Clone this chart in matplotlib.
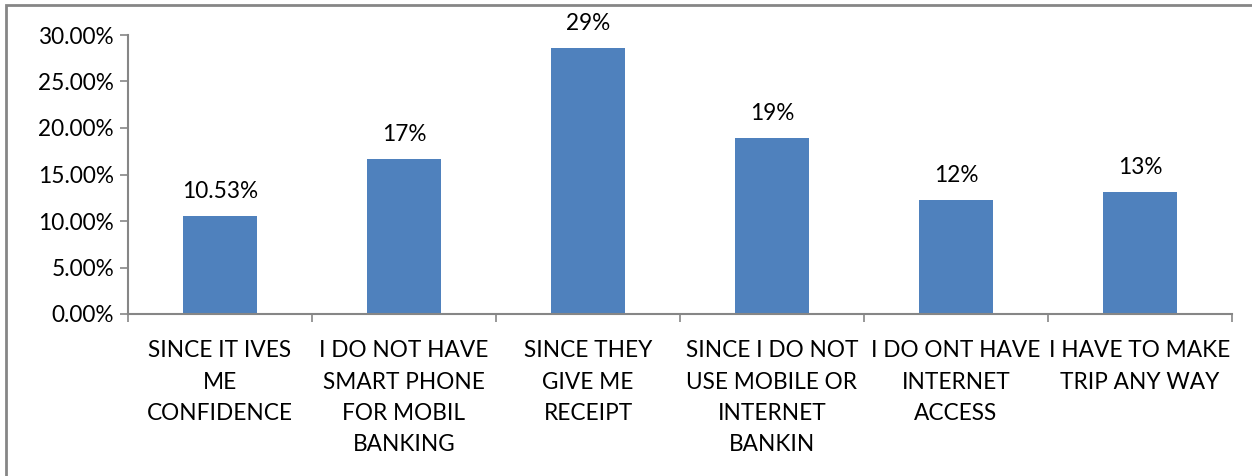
import numpy as np
import matplotlib.pyplot as plt
from matplotlib.patches import Rectangle
from matplotlib.ticker import FuncFormatter

# Survey: reasons for visiting the bank branch in person
reasons = [
    'SINCE IT IVES\nME\nCONFIDENCE',
    'I DO NOT HAVE\nSMART PHONE\nFOR MOBIL\nBANKING',
    'SINCE THEY\nGIVE ME\nRECEIPT',
    'SINCE I DO NOT\nUSE MOBILE OR\nINTERNET\nBANKIN',
    'I DO ONT HAVE\nINTERNET\nACCESS',
    'I HAVE TO MAKE\nTRIP ANY WAY',
]
shares = [10.53, 16.67, 28.57, 18.89, 12.28, 13.16]  # percent
label_decimals = [2, 0, 0, 0, 0, 0]

plt.rcParams['font.family'] = ['Lato', 'DejaVu Sans']

BAR_COLOR = '#4F81BD'
AXIS_GRAY = '#868686'
FS = 16.3

fig = plt.figure(figsize=(12.52, 4.76), dpi=100)
ax = fig.add_axes([128 / 1252, 162 / 476, 1104 / 1252, 279 / 476])

x = np.arange(len(reasons))
bars = ax.bar(x, shares, width=0.4, color=BAR_COLOR, zorder=2)

for rect, val, dec in zip(bars, shares, label_decimals):
    ax.annotate(f'{val:.{dec}f}%',
                xy=(rect.get_x() + rect.get_width() / 2, rect.get_height()),
                xytext=(0, 10), textcoords='offset points',
                ha='center', va='bottom', fontsize=FS, color='black')

ax.set_xlim(-0.5, len(reasons) - 0.5)
ax.set_ylim(0, 30)
ax.set_yticks(np.arange(0, 31, 5))
ax.yaxis.set_major_formatter(FuncFormatter(lambda v, _: f'{v:.2f}%'))

# category names at bar centres, tick marks on the boundaries
ax.set_xticks(x)
ax.set_xticklabels(reasons, fontsize=FS, linespacing=1.6)
ax.set_xticks(np.arange(-0.5, len(reasons)), minor=True)
ax.tick_params(axis='x', which='major', length=0, pad=19)
ax.tick_params(axis='x', which='minor', length=6, width=1.2, color=AXIS_GRAY)
ax.tick_params(axis='y', length=6, width=1.2, color=AXIS_GRAY, labelsize=FS, pad=4)

for side in ('top', 'right'):
    ax.spines[side].set_visible(False)
for side in ('left', 'bottom'):
    ax.spines[side].set_color(AXIS_GRAY)
    ax.spines[side].set_linewidth(1.5)

# chart area border
fig.patches.append(Rectangle((6 / 1252, -0.05), 1.2, (471 / 476) + 0.05,
                             transform=fig.transFigure, fill=False,
                             edgecolor=AXIS_GRAY, linewidth=2))

fig.savefig('out.png', dpi=100)
